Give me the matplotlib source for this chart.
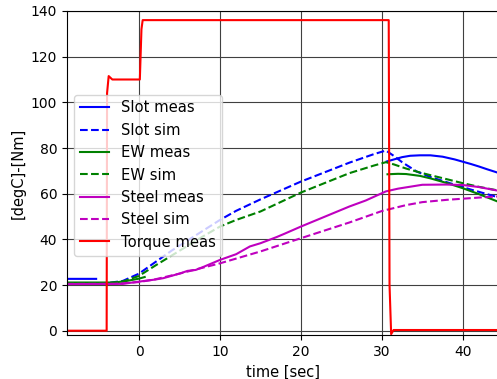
import numpy as np
import matplotlib
matplotlib.use("Agg")
import matplotlib.pyplot as plt

nan = np.nan

# Slot meas (blue solid)
slot_meas_t = [-9.0, -5.3, nan, 30.6, 31.5, 32.5, 33.5, 34.7, 36.0, 37.5, 39.0, 40.0, 41.0, 42.0, 43.0, 44.5]
slot_meas_v = [22.7, 22.7, nan, 74.1, 75.0, 76.0, 76.6, 76.8, 76.8, 76.2, 75.0, 74.0, 73.0, 71.9, 70.7, 69.0]

# Slot sim (blue dashed)
slot_sim_t = [-9.0, -4.0, -2.0, 0.0, 2.0, 4.0, 6.0, 8.0, 10.0, 12.0, 15.0, 20.0, 26.0, 29.0, 30.5,
              31.5, 32.5, 34.3, 36.0, 38.4, 41.0, 44.5]
slot_sim_v = [20.7, 20.8, 21.8, 25.0, 30.0, 35.0, 39.5, 44.0, 48.5, 52.5, 57.5, 65.3, 73.6, 77.3, 78.9,
              76.5, 73.8, 69.7, 67.3, 64.6, 61.8, 58.3]

# EW meas (green solid)
ew_meas_t = [-9.0, -3.0, -1.5, 0.0, 0.7, nan, 30.7, 32.0, 33.0, 34.7, 36.0, 38.0, 40.0, 42.0, 44.5]
ew_meas_v = [21.1, 21.1, 21.8, 22.8, 23.5, nan, 68.5, 68.7, 68.6, 67.8, 66.7, 64.7, 62.4, 59.8, 56.3]

# EW sim (green dashed)
ew_sim_t = [-9.0, -4.0, -2.0, 0.0, 2.0, 5.0, 8.0, 10.0, 12.0, 15.0, 20.0, 26.0, 29.0, 30.5,
            31.5, 33.0, 35.0, 37.5, 40.0, 42.0, 44.5]
ew_sim_v = [20.7, 20.8, 21.5, 24.0, 28.5, 35.0, 41.5, 45.6, 48.5, 52.2, 60.5, 69.0, 72.3, 73.8,
            72.8, 71.0, 69.0, 66.8, 64.6, 63.0, 61.3]

# Steel meas (magenta solid)
steel_meas_t = [-9.0, -2.0, 0.0, 2.0, 3.0, 5.0, 6.0, 7.0, 8.0, 10.0, 12.0, 13.7, 15.0, 17.0, 18.0,
                20.0, 23.0, 26.0, 28.0, 30.5, 32.0, 35.0, 38.0, 40.0, 42.0, 44.5]
steel_meas_v = [20.4, 20.5, 21.5, 22.4, 23.0, 25.0, 26.2, 26.6, 28.0, 31.0, 33.5, 36.9, 38.3, 41.0, 42.5,
                45.6, 50.0, 54.4, 57.0, 61.0, 62.2, 63.9, 64.0, 63.8, 62.9, 61.2]

# Steel sim (magenta dashed)
steel_sim_t = [-9.0, -3.0, 0.0, 2.0, 5.0, 10.0, 15.0, 20.0, 26.0, 30.0, 33.0, 35.0, 38.0, 40.0, 42.0, 44.5]
steel_sim_v = [20.5, 20.5, 21.3, 22.5, 25.0, 29.5, 34.7, 40.5, 47.4, 52.4, 55.0, 56.3, 57.3, 57.8, 58.3, 58.8]

# Torque meas (red solid)
torque_t = [-9.0, -4.0, -3.95, -3.75, -3.3, 0.1, 0.3, 0.45, 30.85, 30.95, 31.15, 31.45, 45.0]
torque_v = [0.0, 0.0, 104.0, 111.5, 110.0, 110.0, 132.0, 136.0, 136.0, 20.0, -1.5, 0.3, 0.3]

fig = plt.figure(figsize=(4.97, 3.79), dpi=100)
ax = fig.add_axes([0.1348, 0.116, 0.868, 0.855])

lw = 1.5
ax.plot(slot_meas_t, slot_meas_v, color='b', ls='-', lw=lw, label='Slot meas')
ax.plot(slot_sim_t, slot_sim_v, color='b', ls='--', lw=lw, label='Slot sim')
ax.plot(ew_meas_t, ew_meas_v, color='g', ls='-', lw=lw, label='EW meas')
ax.plot(ew_sim_t, ew_sim_v, color='g', ls='--', lw=lw, label='EW sim')
ax.plot(steel_meas_t, steel_meas_v, color='m', ls='-', lw=lw, label='Steel meas')
ax.plot(steel_sim_t, steel_sim_v, color='m', ls='--', lw=lw, label='Steel sim')
ax.plot(torque_t, torque_v, color='r', ls='-', lw=lw, label='Torque meas')

ax.set_xlim(-8.9, 44.4)
ax.set_ylim(-1.9, 140)
ax.set_xticks([0, 10, 20, 30, 40])
ax.set_yticks([0, 20, 40, 60, 80, 100, 120, 140])
ax.grid(True, color='0.25', linewidth=0.8)
ax.set_xlabel('time [sec]', fontsize=10.5)
ax.set_ylabel('[degC]-[Nm]', fontsize=10.5)
ax.tick_params(labelsize=10)

ax.legend(loc='upper left', bbox_to_anchor=(0.016, 0.742), borderaxespad=0, fontsize=10.6)

fig.savefig('out.png', dpi=100)
